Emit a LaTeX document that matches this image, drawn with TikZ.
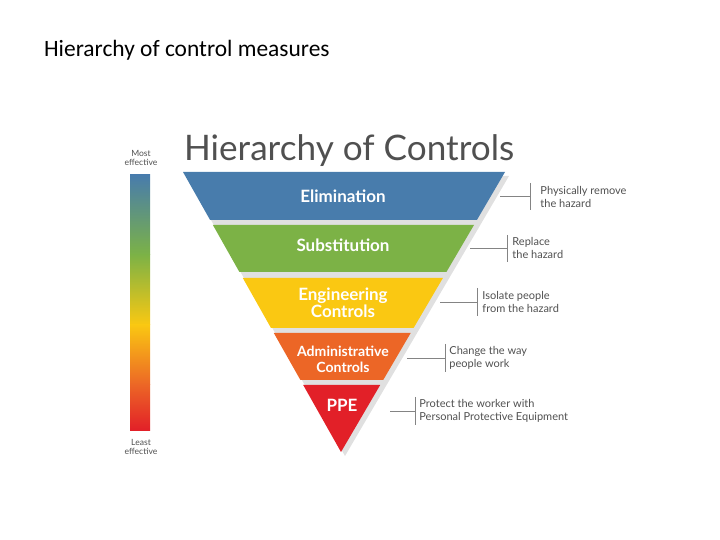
\documentclass[tikz,border=0pt]{standalone}
\usepackage{fontspec}
\setmainfont{Carlito}
\newfontfamily\headfont{Lato}
\usetikzlibrary{positioning}

\definecolor{elimblue}{RGB}{72,124,172}
\definecolor{substgreen}{RGB}{124,178,70}
\definecolor{enggold}{RGB}{250,200,18}
\definecolor{adminorange}{RGB}{236,102,38}
\definecolor{ppered}{RGB}{226,32,40}
\definecolor{textgray}{RGB}{80,80,80}

\tikzset{
    bandlabel/.style={text=white, font=\headfont\bfseries\fontsize{14.5}{14.5}\selectfont, align=center},
    sidelabel/.style={text=textgray, font=\headfont\fontsize{9.4}{11}\selectfont, align=left, anchor=west, inner sep=1pt},
    barlabel/.style={text=textgray, font=\headfont\fontsize{7.3}{8.3}\selectfont, align=center},
    tick/.style={draw=textgray!70, line width=0.5pt}
}

\begin{document}
\begin{tikzpicture}[x=0.03cm, y=-0.03cm]
    \useasboundingbox (0,0) rectangle (720,540);

    % Slide title
    \node[anchor=west, font=\fontsize{20}{20}\selectfont] (title) at (40,50) {Hierarchy of control measures};

    % Heading
    \node[anchor=west, text=textgray, font=\headfont\fontsize{30}{30}\selectfont] (head) at (180,151) {Hierarchy of Controls};

    % Gradient bar
    \shade[top color=elimblue, bottom color=substgreen] (130,175) rectangle (150,255);
    \shade[top color=substgreen, bottom color=enggold] (130,254.5) rectangle (150,325);
    \shade[top color=enggold, bottom color=adminorange] (130,324.5) rectangle (150,385);
    \shade[top color=adminorange, bottom color=ppered] (130,384.5) rectangle (150,430);
    \node[barlabel] (most) at (141,158) {Most\\effective};
    \node[barlabel] (least) at (141,447) {Least\\effective};

    % Bands
    \fill[black!12] (186,176) -- (509,176) -- (345,456) -- cycle;
    \fill[elimblue] (183,172) -- (505,172) -- (476.9,220) -- (210.1,220) -- cycle;
    \fill[substgreen] (212.9,225) -- (474.0,225) -- (446.4,272) -- (239.4,272) -- cycle;
    \fill[enggold] (242.8,278) -- (442.9,278) -- (413.6,328) -- (271.0,328) -- cycle;
    \fill[adminorange] (273.8,333) -- (410.7,333) -- (383.2,380) -- (300.4,380) -- cycle;
    \fill[ppered] (303.2,385) -- (380.2,385) -- (341,452) -- cycle;

    \node[bandlabel] (elim) at (343,196) {Elimination};
    \node[bandlabel] (subst) at (343,245) {Substitution};
    \node[bandlabel] (eng) at (343,303) {Engineering\\Controls};
    \node[bandlabel, font=\headfont\bfseries\fontsize{12}{13.5}\selectfont] (admin) at (343,359) {Administrative\\Controls};
    \node[bandlabel] (ppe) at (342,405) {PPE};

    % Side notes
    \node[sidelabel] (elimnote) at (539,197) {Physically remove\\the hazard};
    \node[sidelabel] (substnote) at (511,248) {Replace\\the hazard};
    \node[sidelabel] (engnote) at (481,302) {Isolate people\\from the hazard};
    \node[sidelabel] (adminnote) at (448,358) {Change the way\\people work};
    \node[sidelabel] (ppenote) at (418,411) {Protect the worker with\\Personal Protective Equipment};

    \coordinate (elimedge) at (500,196);
    \coordinate (substedge) at (470,248);
    \coordinate (engedge) at (440,302);
    \coordinate (adminedge) at (407,358);
    \coordinate (ppeedge) at (390,411);

    \draw[tick] (elimedge) -- (530,196);
    \draw[tick] (530,183) -- (530,210);
    \draw[tick] (substedge) -- (507,248);
    \draw[tick] (507,235) -- (507,262);
    \draw[tick] (engedge) -- (477,302);
    \draw[tick] (477,288) -- (477,316);
    \draw[tick] (adminedge) -- (445,358);
    \draw[tick] (445,344) -- (445,372);
    \draw[tick] (ppeedge) -- (415,411);
    \draw[tick] (415,397) -- (415,425);
\end{tikzpicture}
\end{document}
